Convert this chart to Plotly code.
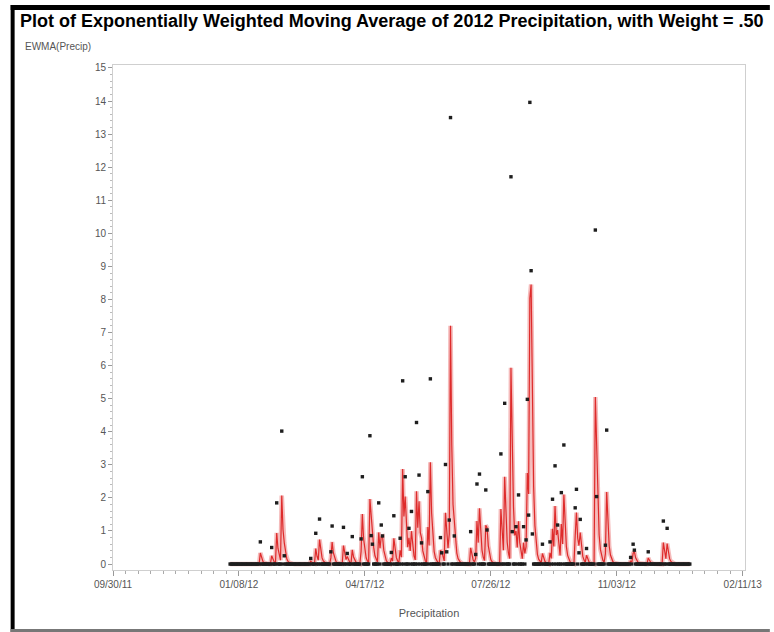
import pandas as pd
import plotly.graph_objects as go

# Daily 2012 precipitation: days with measurable rain (all other days are 0)
rain_dates = [
    "2012-01-25", "2012-02-03", "2012-02-07", "2012-02-11", "2012-02-13",
    "2012-03-05", "2012-03-09", "2012-03-12", "2012-03-21", "2012-03-22",
    "2012-03-31", "2012-04-03", "2012-04-07", "2012-04-14", "2012-04-15",
    "2012-04-21", "2012-04-22", "2012-04-23", "2012-04-28", "2012-04-30",
    "2012-05-01", "2012-05-08", "2012-05-10", "2012-05-15", "2012-05-17",
    "2012-05-19", "2012-05-22", "2012-05-24", "2012-05-28", "2012-05-30",
    "2012-06-01", "2012-06-06", "2012-06-08", "2012-06-16", "2012-06-17",
    "2012-06-20", "2012-06-21", "2012-06-23", "2012-06-24", "2012-06-27",
    "2012-07-10", "2012-07-14", "2012-07-15", "2012-07-17", "2012-07-22",
    "2012-07-23", "2012-08-03", "2012-08-06", "2012-08-11", "2012-08-12",
    "2012-08-15", "2012-08-17", "2012-08-21", "2012-08-23", "2012-08-24",
    "2012-08-25", "2012-08-26", "2012-08-27", "2012-08-28", "2012-09-05",
    "2012-09-11", "2012-09-13", "2012-09-15", "2012-09-17", "2012-09-20",
    "2012-09-22", "2012-10-01", "2012-10-02", "2012-10-04", "2012-10-05",
    "2012-10-10", "2012-10-17", "2012-10-18", "2012-10-25", "2012-10-26",
    "2012-11-14", "2012-11-16", "2012-11-17", "2012-11-28", "2012-12-10",
    "2012-12-13",
]
rain_values = [
    0.67, 0.50, 1.85, 4.02, 0.25,
    0.17, 0.93, 1.36, 0.37, 1.15,
    1.11, 0.32, 0.83, 0.76, 2.64,
    3.88, 0.86, 0.60, 1.85, 1.18,
    0.85, 0.35, 1.46, 0.78, 5.54,
    2.64, 1.08, 1.59, 4.28, 2.69,
    0.64, 2.19, 5.60, 0.80, 0.34,
    3.01, 0.37, 1.33, 13.50, 0.85,
    0.98, 0.29, 2.42, 2.72, 2.24,
    1.03, 3.33, 4.86, 11.71, 0.98,
    1.13, 2.09, 1.13, 0.73, 4.98,
    1.48, 13.96, 8.87, 0.91, 0.60,
    0.67, 1.96, 2.97, 1.18, 2.16,
    3.60, 1.70, 2.26, 0.34, 1.35,
    0.47, 10.10, 2.04, 0.57, 4.05,
    0.20, 0.60, 0.42, 0.37, 1.30,
    1.08,
]
weight = 0.50

y_ticks = list(range(0, 16))
x_tick_start = "2011-09-30"

# Full daily series for 2012
days = pd.date_range("2012-01-01", "2012-12-31", freq="D")
precip = pd.Series(0.0, index=days)
precip[pd.to_datetime(rain_dates)] = rain_values

# Exponentially weighted moving average with the given weight
ewma = []
prev = None
for v in precip.values:
    prev = v if prev is None else weight * v + (1 - weight) * prev
    ewma.append(prev)

FONT = "Liberation Sans Narrow, Liberation Sans, Arial"

fig = go.Figure()
fig.add_trace(go.Scatter(
    x=days, y=ewma, mode="lines",
    line=dict(color="rgba(236,120,120,0.5)", width=4.5),
    hoverinfo="skip", showlegend=False,
))
fig.add_trace(go.Scatter(
    x=days, y=ewma, mode="lines",
    line=dict(color="#de2b2b", width=1.2),
    name="EWMA", showlegend=False,
))
fig.add_trace(go.Scatter(
    x=days, y=precip.values, mode="markers",
    marker=dict(symbol="square", size=3.4, color="#1e1e1e"),
    name="Precip", showlegend=False,
))

DAY = 86400000
fig.update_xaxes(
    type="date",
    range=["2011-09-30", "2013-02-12 20:00"],
    tick0=x_tick_start, dtick=100 * DAY, tickformat="%m/%d/%y",
    ticks="outside", ticklen=5, tickcolor="#999",
    minor=dict(tick0=x_tick_start, dtick=10 * DAY, ticks="outside",
               ticklen=3, tickcolor="#aaa"),
    showgrid=False, zeroline=False,
    showline=True, linecolor="#cfcfcf", linewidth=1, mirror=True,
    tickfont=dict(family=FONT, size=10, color="#555"),
    title=dict(text="Precipitation", standoff=20,
               font=dict(family=FONT, size=11, color="#555")),
)
fig.update_yaxes(
    range=[-0.18, 15.09],
    tickvals=y_ticks,
    ticks="outside", ticklen=4, tickcolor="#999",
    minor=dict(dtick=0.2, ticks="outside", ticklen=2, tickcolor="#bbb"),
    showgrid=False, zeroline=False,
    showline=True, linecolor="#cfcfcf", linewidth=1, mirror=True,
    tickfont=dict(family=FONT, size=10, color="#555"),
)

W, H = 774, 632
L, R, T, B = 113, 749, 65, 570


def px(xp):
    return (xp - L) / (R - L)


def py(yp):
    return (B - yp) / (B - T)


shapes = [
    # outer frame
    dict(type="rect", xref="paper", yref="paper", x0=px(10), x1=px(14), y0=py(632), y1=py(5),
         fillcolor="black", line=dict(width=0), layer="above"),
    dict(type="rect", xref="paper", yref="paper", x0=px(10), x1=px(774), y0=py(10), y1=py(5),
         fillcolor="black", line=dict(width=0), layer="above"),
    dict(type="rect", xref="paper", yref="paper", x0=px(10), x1=px(774), y0=py(632), y1=py(629),
         fillcolor="#777", line=dict(width=0), layer="above"),
]

fig.update_layout(
    width=W, height=H,
    margin=dict(l=L, r=W - R, t=T, b=H - B),
    paper_bgcolor="white", plot_bgcolor="white",
    shapes=shapes,
    annotations=[
        dict(text="<b>Plot of Exponentially Weighted Moving Average of 2012 Precipitation, with Weight = .50</b>",
             xref="paper", yref="paper", x=px(17), y=py(21), xanchor="left", yanchor="middle",
             showarrow=False,
             font=dict(family=FONT, size=18, color="black")),
        dict(text="EWMA(Precip)",
             xref="paper", yref="paper", x=px(22), y=py(47), xanchor="left", yanchor="middle",
             showarrow=False,
             font=dict(family=FONT, size=10, color="#555")),
    ],
)

fig.write_html("out.html")
